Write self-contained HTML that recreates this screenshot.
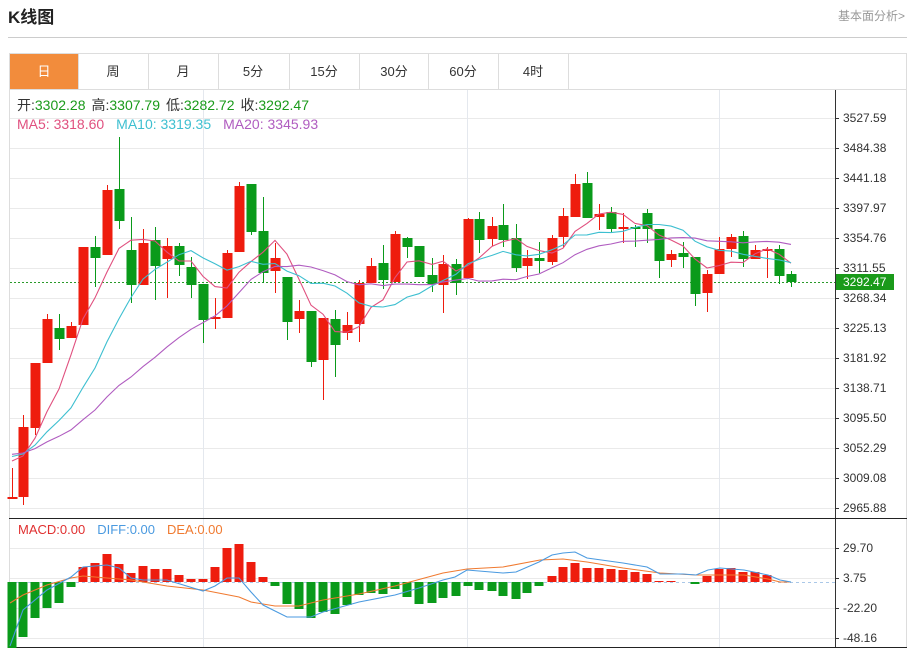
<!DOCTYPE html>
<html><head><meta charset="utf-8"><style>
body{margin:0;background:#fff;width:911px;height:651px;overflow:hidden;font-family:"Liberation Sans","Noto Sans CJK SC",sans-serif;}
svg text{font-family:"Liberation Sans","Noto Sans CJK SC",sans-serif;}
</style></head><body>
<svg id="s" width="911" height="651" xmlns="http://www.w3.org/2000/svg">
<text x="8" y="23" font-size="17" font-weight="bold" fill="#222">K线图</text>
<text x="905" y="20" font-size="12" fill="#999" text-anchor="end">基本面分析&gt;</text>
<line x1="8" y1="37.5" x2="907" y2="37.5" stroke="#ccc"/>
<rect x="9.5" y="53.5" width="897" height="594" fill="none" stroke="#ddd"/>
<line x1="9" y1="89.5" x2="907" y2="89.5" stroke="#ddd"/>
<rect x="10" y="54" width="68" height="35" fill="#f28c3c"/>
<g font-size="13" fill="#333" text-anchor="middle">
<text x="44" y="76" fill="#fff">日</text><text x="113" y="76">周</text><text x="183" y="76">月</text><text x="253" y="76">5分</text><text x="324" y="76">15分</text><text x="394" y="76">30分</text><text x="463" y="76">60分</text><text x="533" y="76">4时</text>
</g>
<g stroke="#ddd"><line x1="78.5" y1="54" x2="78.5" y2="89"/><line x1="148.5" y1="54" x2="148.5" y2="89"/><line x1="218.5" y1="54" x2="218.5" y2="89"/><line x1="289.5" y1="54" x2="289.5" y2="89"/><line x1="359.5" y1="54" x2="359.5" y2="89"/><line x1="428.5" y1="54" x2="428.5" y2="89"/><line x1="498.5" y1="54" x2="498.5" y2="89"/><line x1="568.5" y1="54" x2="568.5" y2="89"/></g>
<g id="grid"></g>
<line x1="835.5" y1="90" x2="835.5" y2="648" stroke="#333"/>
<line x1="9" y1="518.5" x2="907" y2="518.5" stroke="#222"/>
<line x1="9" y1="647.5" x2="907" y2="647.5" stroke="#222"/>
<g id="plot"></g>
<text x="17" y="110" font-size="14" fill="#333">开:<tspan fill="#1a9a1a">3302.28</tspan><tspan dx="6">高:</tspan><tspan fill="#1a9a1a">3307.79</tspan><tspan dx="6">低:</tspan><tspan fill="#1a9a1a">3282.72</tspan><tspan dx="6">收:</tspan><tspan fill="#1a9a1a">3292.47</tspan></text>
<text x="17" y="129" font-size="14" fill="#e0507f">MA5: 3318.60<tspan fill="#3dbfd0" dx="12">MA10: 3319.35</tspan><tspan fill="#b05cc0" dx="12">MA20: 3345.93</tspan></text>
<text x="18" y="534" font-size="13" fill="#e03030">MACD:0.00<tspan fill="#4a9ae0" dx="12">DIFF:0.00</tspan><tspan fill="#f07a30" dx="12">DEA:0.00</tspan></text>
</svg>
<script>
var NS="http://www.w3.org/2000/svg",g=document.getElementById('grid'),p=document.getElementById('plot');
function el(t,a,par){var e=document.createElementNS(NS,t);for(var k in a)e.setAttribute(k,a[k]);(par||p).appendChild(e);return e;}
var labs=["3527.59","3484.38","3441.18","3397.97","3354.76","3311.55","3268.34","3225.13","3181.92","3138.71","3095.50","3052.29","3009.08","2965.88"];
for(var i=0;i<14;i++){var y=118+i*30;el('line',{x1:10,y1:y+.5,x2:835,y2:y+.5,stroke:'#eaeaea'},g);el('line',{x1:835,y1:y+.5,x2:839,y2:y+.5,stroke:'#333'},g);
var t=el('text',{x:843,y:y+4,'font-size':12,fill:'#333'},g);t.textContent=labs[i];}
[548,578,608,638].forEach(function(y,i){el('line',{x1:10,y1:y+.5,x2:835,y2:y+.5,stroke:'#eaeaea'},g);el('line',{x1:835,y1:y+.5,x2:839,y2:y+.5,stroke:'#333'},g);var t=el('text',{x:843,y:y+4,'font-size':12,fill:'#333'},g);t.textContent=["29.70","3.75","-22.20","-48.16"][i];});
[203,467,719].forEach(function(x){el('line',{x1:x+.5,y1:90,x2:x+.5,y2:647,stroke:'#e4e8ee'},g);});
var C=[[12,'r',497,499,468,499],[23,'r',427,497,415,505],[35,'r',363,428,363,435],[47,'r',319,363,314,363],[59,'g',328,339,314,350],[71,'r',326,338,322,338],[83,'r',247,325,247,325],[95,'g',247,258,236,287],[107,'r',190,255,185,255],[119,'g',189,221,137,229],[131,'g',250,285,217,303],[143,'r',243,285,229,285],[155,'g',240,266,227,300],[167,'r',246,259,238,298],[179,'g',246,265,243,276],[191,'g',267,285,257,298],[203,'g',284,320,284,343],[215,'r',317,319,298,329],[227,'r',253,318,250,318],[239,'r',186,252,182,252],[251,'g',184,232,184,235],[263,'g',231,273,197,283],[275,'r',258,271,243,293],[287,'g',277,322,277,340],[299,'r',311,319,300,333],[311,'g',311,362,311,367],[323,'r',318,360,318,400],[335,'g',319,345,310,377],[347,'r',325,333,312,340],[359,'r',283,324,280,342],[371,'r',266,283,258,283],[383,'g',263,280,245,289],[395,'r',234,282,231,282],[407,'g',238,247,237,258],[419,'g',246,277,246,277],[432,'g',275,284,258,292],[443,'r',264,285,255,313],[456,'g',264,283,259,295],[468,'r',219,278,218,278],[479,'g',219,240,212,253],[492,'r',226,239,217,246],[503,'g',225,240,204,247],[516,'g',238,268,224,272],[527,'r',258,266,250,279],[539,'g',258,261,242,273],[552,'r',238,262,235,265],[563,'r',216,237,208,248],[575,'r',184,217,174,217],[587,'g',183,218,172,218],[599,'r',214,217,204,230],[611,'g',212,229,207,232],[623,'r',227,229,213,243],[635,'g',227,229,225,247],[647,'g',213,229,209,243],[659,'g',229,261,229,278],[671,'r',254,260,250,267],[683,'g',253,257,242,268],[695,'g',257,294,257,306],[707,'r',274,293,270,312],[719,'r',249,274,237,274],[731,'r',237,249,234,257],[743,'g',236,259,231,267],[755,'r',250,259,245,259],[767,'r',249,251,247,278],[779,'g',249,276,245,284],[791,'g',274,282,271,287]];
var RED='#ee1c0e',GRN='#0a9a1a';
el('line',{x1:10,y1:282.5,x2:835,y2:282.5,stroke:'#2a9a2a','stroke-dasharray':'2,2'});
C.forEach(function(c){var col=c[1]=='r'?RED:GRN;el('line',{x1:c[0]+.5,y1:c[4],x2:c[0]+.5,y2:c[5],stroke:col});el('rect',{x:c[0]-4.5,y:c[2],width:10,height:Math.max(1,c[3]-c[2]),fill:col});});
var cl=C.map(function(c){return c[1]=='r'?c[2]:c[3];});
var pad=[];for(var i=0;i<19;i++)pad.push(452);var all=pad.concat(cl);
function ma(n,col){var pts=[];for(var i=0;i<C.length;i++){var s=0;for(var j=0;j<n;j++)s+=all[i+19-j];pts.push(C[i][0]+','+(s/n).toFixed(1));}el('polyline',{points:pts.join(' '),fill:'none',stroke:col,'stroke-width':1.1});}
ma(5,'#e0507f');ma(10,'#3dbfd0');ma(20,'#b05cc0');
el('rect',{x:836,y:274,width:58,height:16,fill:'#1a9a1a'});var t=el('text',{x:843,y:286,'font-size':12,fill:'#fff'});t.textContent='3292.47';
var M=[648,637,618,608,603,587,567,563,554,564,573,566,569,569,575,579,579,567,548,544,562,577,586,604,609,618,612,614,605,595,593,594,589,597,604,603,598,596,586,590,591,596,599,593,586,576,567,563,568,568,569,570,572,574,581,581,582,584,576,569,568,572,572,575,582,582,582];
el('line',{x1:10,y1:582.5,x2:835,y2:582.5,stroke:'#aac8e8','stroke-dasharray':'3,3'});
for(var i=0;i<C.length;i++){var y=M[i];if(Math.abs(y-582)<1)continue;var up=y<582;el('rect',{x:C[i][0]-4.5,y:up?y:582,width:9,height:Math.abs(y-582),fill:up?RED:GRN});}
el('polyline',{points:"10,603 23,595 47,585 71,578 83,576 131,580 167,586 203,590 239,597 251,602 275,606 299,606 323,600 359,594 395,586 443,573 467,569 503,567 540,560 563,559 587,562 623,568 660,573 696,575 720,575 744,575 768,579 780,582 791,582",fill:'none',stroke:'#f07a30','stroke-width':1.1});
el('polyline',{points:"10,646 23,610 47,590 71,577 83,567 107,565 119,568 131,578 143,580 167,580 203,591 215,586 227,578 239,578 251,592 263,605 287,617 311,617 323,612 359,602 395,595 419,588 443,580 455,577 467,570 479,571 503,573 516,572 539,562 552,555 563,553 575,552 587,558 623,563 647,567 660,574 683,574 696,575 708,570 720,568 744,570 768,575 780,580 791,582",fill:'none',stroke:'#4a9ae0','stroke-width':1.1});
</script>
</body></html>
